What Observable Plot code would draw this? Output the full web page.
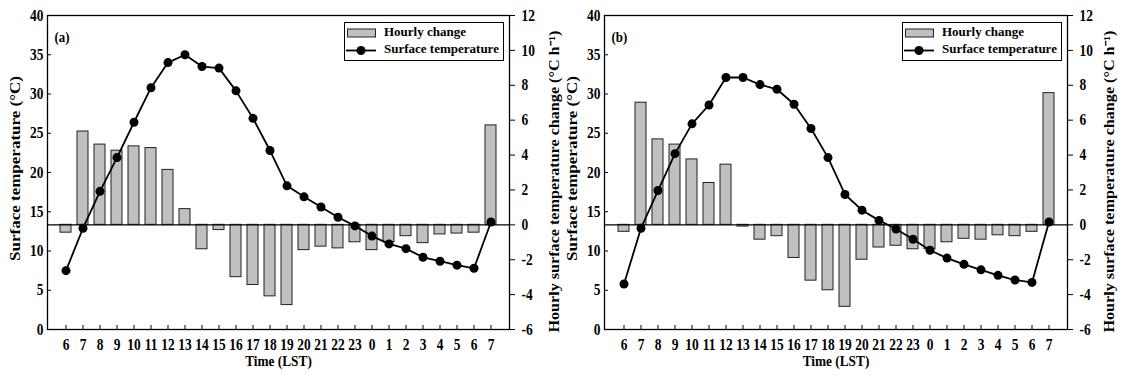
<!DOCTYPE html>
<html>
<head>
<meta charset="utf-8">
<script src="https://cdn.jsdelivr.net/npm/d3@7"></script>
<script src="https://cdn.jsdelivr.net/npm/@observablehq/plot@0.6"></script>
<style>
  html, body { margin: 0; padding: 0; background: #fff; }
  #wrap { position: relative; width: 1123px; height: 377px; overflow: hidden; font-family: "Liberation Serif", "Times New Roman", serif; font-weight: bold; }
  .panel { position: absolute; top: 0; }
  .panel svg { overflow: visible; }
  .legend { position: absolute; top: 22px; width: 160px; height: 39px; box-sizing: border-box; border: 1.3px solid #000; background: #fff; }
  .legend svg { position: absolute; left: 0; top: 0; }
</style>
</head>
<body>
<div id="wrap"></div>
<script>
const hours = [6,7,8,9,10,11,12,13,14,15,16,17,18,19,20,21,22,23,0,1,2,3,4,5,6,7];
const tempA = [7.5,12.9,17.6,21.9,26.4,30.8,34.0,35.0,33.5,33.3,30.4,26.9,22.8,18.3,16.9,15.6,14.3,13.2,11.9,10.9,10.3,9.2,8.7,8.2,7.8,13.7];
const changeA = [-0.45,5.35,4.6,4.25,4.5,4.4,3.15,0.9,-1.4,-0.3,-3.0,-3.45,-4.1,-4.6,-1.45,-1.25,-1.35,-1.0,-1.45,-1.0,-0.65,-1.05,-0.55,-0.5,-0.45,5.7];
const tempB = [5.8,12.9,17.7,22.4,26.2,28.6,32.1,32.1,31.2,30.6,28.7,25.6,21.9,17.2,15.2,13.9,12.8,11.5,10.1,9.1,8.3,7.6,6.9,6.3,6.0,13.7];
const changeB = [-0.4,7.0,4.9,4.6,3.75,2.4,3.45,-0.1,-0.85,-0.65,-1.9,-3.2,-3.75,-4.7,-2.0,-1.3,-1.2,-1.4,-1.4,-1.0,-0.8,-0.85,-0.6,-0.65,-0.4,7.55];
const leftTicks = [0,5,10,15,20,25,30,35,40];
const rightTicks = [-6,-4,-2,0,2,4,6,8,10,12];
const leftLabel = "Surface temperature (°C)";
const rightLabel = "Hourly surface temperature change (°C h\u207B\u00B9)";
const xLabel = "Time (LST)";
const legendLabels = ["Hourly change", "Surface temperature"];

const leftDomain = [0, 40];
const rightDomain = [-6, 12];
const toY = v => (v - rightDomain[0]) * (leftDomain[1] - leftDomain[0]) / (rightDomain[1] - rightDomain[0]) + leftDomain[0];
const fromY = y => Math.round((y - leftDomain[0]) * (rightDomain[1] - rightDomain[0]) / (leftDomain[1] - leftDomain[0]) + rightDomain[0]);

// the original figure's horizontal text is slightly condensed: scale x about the anchor
function squeeze(node, sx) {
  const xa = node.getAttribute("x");
  let tx = 0;
  if (xa !== null && /^-?[\d.]+$/.test(xa.trim())) { tx = +xa; node.setAttribute("x", 0); }
  const tr = node.getAttribute("transform") || "";
  node.setAttribute("transform", `${tr} translate(${tx},0) scale(${sx},1)`);
}

function panel(letter, temp, change, o) {
  const data = hours.map((h, i) => ({i, h, temp: temp[i], change: change[i]}));
  const svg = Plot.plot({
    width: o.width, height: 377,
    marginLeft: o.ml, marginRight: o.mr, marginTop: 15, marginBottom: 48,
    style: {fontFamily: "'Liberation Serif', 'Times New Roman', serif", fontWeight: "bold", fontSize: "13.5px", background: "transparent", color: "#000", overflow: "visible"},
    x: {type: "band", domain: d3.range(hours.length), paddingInner: 0.38, paddingOuter: 0.19},
    y: {domain: leftDomain},
    marks: [
      Plot.barY(data, {x: "i", y1: toY(0), y2: d => toY(d.change), fill: "#c0c0c0", stroke: "#222", strokeWidth: 1}),
      Plot.ruleY([toY(0)], {stroke: "#000", strokeWidth: 1.2}),
      Plot.line(data, {x: "i", y: "temp", stroke: "#000", strokeWidth: 1.8}),
      Plot.dot(data, {x: "i", y: "temp", r: 4.5, fill: "#000", stroke: "none"}),
      Plot.frame({stroke: "#000", strokeWidth: 1.3}),
      Plot.axisX({tickFormat: i => hours[i], tickSize: -4, tickPadding: 13, label: xLabel, labelAnchor: "center", labelOffset: 36, labelArrow: "none"}),
      Plot.axisY(leftTicks, {anchor: "left", tickSize: -4, tickPadding: 8, label: leftLabel, labelAnchor: "center", labelOffset: o.lo, labelArrow: "none"}),
      Plot.axisY(rightTicks.map(toY), {anchor: "right", tickFormat: y => String(fromY(y)), tickSize: 5, tickPadding: 7, label: rightLabel, labelAnchor: "center", labelOffset: o.ro, labelArrow: "none"}),
      Plot.text([letter], {frameAnchor: "top-left", dx: 7, dy: 16, fontSize: 15, fontWeight: "bold"})
    ]
  });
  const s = d3.select(svg);
  s.selectAll('g[aria-label$="axis label"] text').each(function() {
    const t = d3.select(this);
    t.text(t.text().replace(/[\u2191\u2192\u2193\u2190]/g, "").trim());
  });
  // vertical titles are stretched along their length in the original figure
  s.selectAll('g[aria-label="y-axis label"] text').each(function() {
    const isRight = this.textContent.startsWith("Hourly");
    this.style.fontSize = "14px";
    this.setAttribute("textLength", isRight ? 302 : 185);
    this.setAttribute("lengthAdjust", "spacingAndGlyphs");
    const tr = this.getAttribute("transform") || "";
    this.setAttribute("transform", tr + (isRight ? " translate(-9,0)" : " translate(4,0)"));
  });
  s.selectAll('g[aria-label$="tick label"] text').each(function() { this.style.fontSize = "16px"; squeeze(this, 0.84); });
  s.selectAll('g[aria-label="x-axis label"] text').each(function() { this.style.fontSize = "15.5px"; squeeze(this, 0.86); });
  s.selectAll('g[aria-label="text"] text').each(function() { squeeze(this, 0.86); });
  return svg;
}

function legend(left) {
  const d = document.createElement("div");
  d.className = "legend";
  d.style.left = left + "px";
  d.innerHTML = `<svg width="158" height="37" font-family="'Liberation Serif', serif" font-weight="bold" font-size="13">
    <rect x="2.5" y="6" width="28" height="8" fill="#c0c0c0" stroke="#222" stroke-width="1"/>
    <text x="39" y="10" dominant-baseline="middle">${legendLabels[0]}</text>
    <line x1="1" x2="31" y1="27.5" y2="27.5" stroke="#000" stroke-width="1.8"/>
    <circle cx="16" cy="27.5" r="4.5" fill="#000"/>
    <text x="39" y="27.5" dominant-baseline="middle">${legendLabels[1]}</text>
  </svg>`;
  return d;
}

const wrap = document.getElementById("wrap");
const pa = document.createElement("div"); pa.className = "panel"; pa.style.left = "0px";
pa.appendChild(panel("(a)", tempA, changeA, {width: 561, ml: 47, mr: 52, lo: 37, ro: 49}));
const pb = document.createElement("div"); pb.className = "panel"; pb.style.left = "557px";
pb.appendChild(panel("(b)", tempB, changeB, {width: 566, ml: 47, mr: 56, lo: 37, ro: 46}));
wrap.appendChild(pa);
wrap.appendChild(pb);
wrap.appendChild(legend(344));
wrap.appendChild(legend(902));
</script>
</body>
</html>
